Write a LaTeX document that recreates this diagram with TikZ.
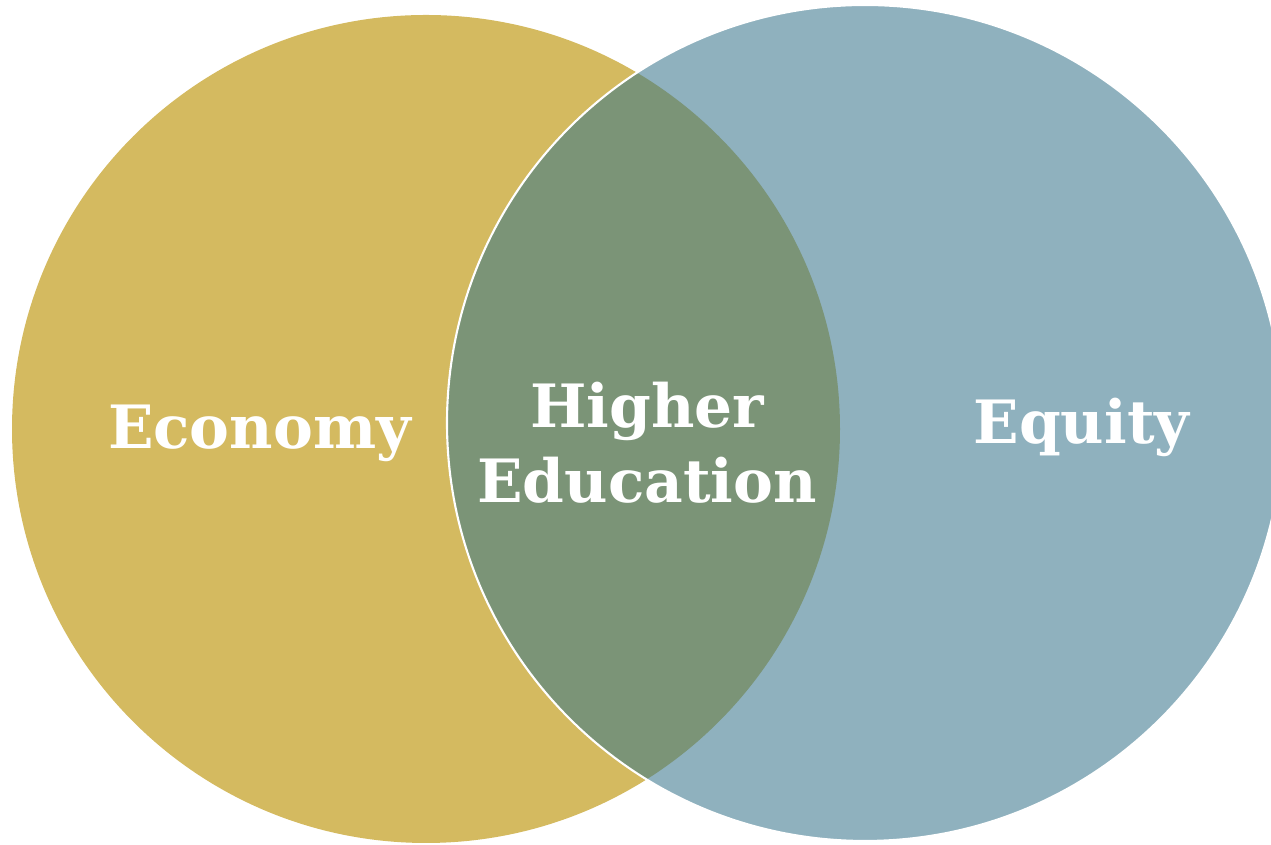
\documentclass[tikz,border=0pt]{standalone}
\usepackage{fontspec}
\setmainfont{DejaVu Serif}
\usepackage{tikz}

\definecolor{gold}{RGB}{212,186,96}
\definecolor{slate}{RGB}{143,177,190}
\definecolor{sage}{RGB}{123,148,119}

\begin{document}
\begin{tikzpicture}
        [every node/.style={text=white,inner sep=0,anchor=base,font=\fontsize{34}{40}\selectfont\bfseries}]

        \useasboundingbox (0,0) rectangle (25.42,16.9);
        \clip (0,0) rectangle (25.42,16.9);

        \fill[gold] (8.52,8.32) circle (8.28);
        \fill[slate] (17.30,8.44) circle (8.36);
        \begin{scope}
          \clip (8.52,8.32) circle (8.28);
          \fill[sage] (17.30,8.44) circle (8.36);
        \end{scope}
        \draw[white,line width=1.2pt] (17.30,8.44) circle (8.36);

        \node (econ) at (5.19,7.92) {Economy};
        \node (higher) at (12.94,8.34) {Higher};
        \node (educ) at (12.94,6.84) {Education};
        \node (equity) at (21.63,8.02) {Equity};
      \end{tikzpicture}
\end{document}
